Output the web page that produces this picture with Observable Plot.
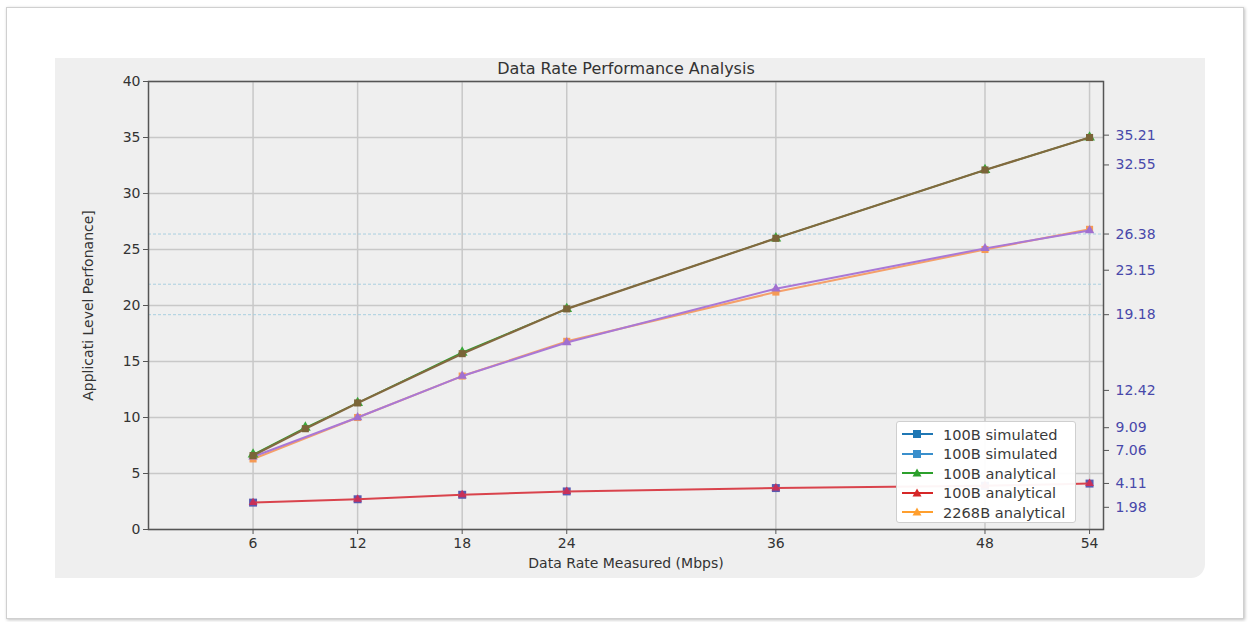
<!DOCTYPE html>
<html>
<head>
<meta charset="utf-8">
<script src="https://cdn.jsdelivr.net/npm/d3@7"></script>
<script src="https://cdn.jsdelivr.net/npm/@observablehq/plot@0.6"></script>
<style>
  html, body { margin: 0; padding: 0; background: #ffffff; width: 1250px; height: 622px; overflow: hidden; font-family: "DejaVu Sans", sans-serif; }
  #outer { position: absolute; left: 6px; top: 7px; width: 1236px; height: 610px; border: 1px solid #d0d0d0; box-shadow: 1px 1px 3px rgba(0,0,0,0.25); background: #fff; }
  #panel { position: absolute; left: 55px; top: 58px; width: 1150px; height: 520px; background: #efefef; border-bottom-right-radius: 14px; }
  #legend { position: absolute; left: 896px; top: 421px; width: 178px; height: 100px; background: rgba(255,255,255,0.95); border: 1px solid #cfcfcf; border-radius: 3px; font: 14.6px "DejaVu Sans", sans-serif; color: #3a3a3a; }
  .row { position: absolute; left: 0; height: 20px; display: flex; align-items: center; }
  .row svg { margin-left: 5px; margin-right: 10px; }
</style>
</head>
<body>
<div id="outer"></div>
<div id="panel"></div>
<div id="legend"></div>
<script>
// ---- data ----
const xTop = [6, 9, 12, 18, 24, 36, 48, 54];
const top100Analytical = [6.7, 9.1, 11.3, 15.8, 19.7, 26.0, 32.1, 35.0];
const top100Simulated = [6.6, 9.0, 11.3, 15.7, 19.7, 26.0, 32.1, 35.0];
const xMid = [6, 12, 18, 24, 36, 48, 54];
const mid2268Analytical = [6.3, 10.0, 13.7, 16.8, 21.2, 25.0, 26.8];
const midSimulated = [6.5, 10.0, 13.7, 16.7, 21.5, 25.1, 26.7];
const xLow = [6, 12, 18, 24, 36, 48, 54];
const low100Simulated = [2.4, 2.7, 3.1, 3.4, 3.7, 3.9, 4.1];
const low100Analytical = [2.4, 2.7, 3.1, 3.4, 3.7, 3.9, 4.1];
const xTicks = [6, 12, 18, 24, 36, 48, 54];
const yTicks = [0, 5, 10, 15, 20, 25, 30, 35, 40];
const rightTicks = [35.21, 32.55, 26.38, 23.15, 19.18, 12.42, 9.09, 7.06, 4.11, 1.98];
const refLines = [26.38, 21.9, 19.18];
const legendLabels = ["100B simulated", "100B simulated", "100B analytical", "100B analytical", "2268B analytical"];
const legendColors = ["#1f77b4", "#3a8fcc", "#2ca02c", "#d62728", "#ff9f2e"];
const legendSymbols = ["square", "square", "triangle", "triangle", "triangle"];

const toRows = (xs, ys) => xs.map((x, i) => ({x, y: ys[i]}));
const topA = toRows(xTop, top100Analytical);
const topS = toRows(xTop, top100Simulated);
const midA = toRows(xMid, mid2268Analytical);
const midS = toRows(xMid, midSimulated);
const lowS = toRows(xLow, low100Simulated);
const lowA = toRows(xLow, low100Analytical);

const chart = Plot.plot({
  width: 1150,
  height: 520,
  marginLeft: 93,
  marginRight: 102,
  marginTop: 23,
  marginBottom: 49,
  style: {background: "transparent", fontFamily: "DejaVu Sans, sans-serif", fontSize: "14px", color: "#333"},
  x: {domain: [0, 54.8]},
  y: {domain: [0, 40]},
  marks: [
    Plot.gridX(xTicks, {stroke: "#c8c8c8", strokeOpacity: 1, strokeWidth: 1.5}),
    Plot.gridY(yTicks, {stroke: "#c8c8c8", strokeOpacity: 1, strokeWidth: 1.5}),
    Plot.ruleY(refLines, {stroke: "#a9cfe0", strokeDasharray: "3,2", strokeWidth: 1}),
    // middle series
    Plot.line(midA, {x: "x", y: "y", stroke: "#f5a06a", strokeWidth: 2}),
    Plot.dot(midA, {x: "x", y: "y", symbol: "square", r: 4, fill: "#f59a55", stroke: "none"}),
    Plot.line(midS, {x: "x", y: "y", stroke: "#a978d6", strokeWidth: 2}),
    Plot.dot(midS, {x: "x", y: "y", symbol: "triangle", r: 3.5, fill: "#a070d0", stroke: "none"}),
    // top series
    Plot.line(topA, {x: "x", y: "y", stroke: "#2ca02c", strokeWidth: 1.5}),
    Plot.dot(topA, {x: "x", y: "y", symbol: "triangle", r: 4, fill: "#3aa83a", stroke: "none"}),
    Plot.line(topS, {x: "x", y: "y", stroke: "#82693f", strokeWidth: 2.2}),
    Plot.dot(topS, {x: "x", y: "y", symbol: "square", r: 4, fill: "#7a6438", stroke: "none"}),
    // low series
    Plot.dot(lowS, {x: "x", y: "y", symbol: "square", r: 4.5, fill: "#5a5ab0", stroke: "none"}),
    Plot.line(lowA, {x: "x", y: "y", stroke: "#d9434c", strokeWidth: 2}),
    Plot.dot(lowA, {x: "x", y: "y", symbol: "triangle", r: 3.2, fill: "#c8305a", stroke: "none"}),
    Plot.frame({stroke: "#555", strokeWidth: 1.5}),
    Plot.axisX({ticks: xTicks, tickSize: 5, tickPadding: 4, stroke: "#555", label: "Data Rate Measured (Mbps)", labelAnchor: "center", labelArrow: "none", labelOffset: 38, tickFormat: d => d}),
    Plot.axisY({ticks: yTicks, tickSize: 5, tickPadding: 3, stroke: "#555", label: "Applicati Level Perfonance]", labelAnchor: "center", labelArrow: "none", labelOffset: 65}),
    Plot.axisY({anchor: "right", ticks: rightTicks, tickSize: 5, stroke: "#555", tickFormat: () => "", label: null}),
    Plot.axisY({anchor: "right", ticks: rightTicks, tickSize: 0, tickPadding: 12, fill: "#4848aa", tickFormat: d => d.toFixed(2), label: null}),
    Plot.text(["Data Rate Performance Analysis"], {frameAnchor: "top", dy: -19, fontSize: 16, fill: "#333", text: d => d})
  ]
});
chart.style.position = "absolute";
chart.style.left = "55px";
chart.style.top = "58px";
document.body.insertBefore(chart, document.getElementById("legend"));

// legend
const legend = document.getElementById("legend");
legendLabels.forEach((lab, i) => {
  const row = document.createElement("div");
  row.className = "row";
  row.style.top = (2 + i * 19.5) + "px";
  const sym = legendSymbols[i] === "square"
    ? `<rect x="11" y="2" width="8" height="8" fill="${legendColors[i]}"/>`
    : `<path d="M15,1.5 L19.5,9.5 L10.5,9.5 Z" fill="${legendColors[i]}"/>`;
  row.innerHTML = `<svg width="31" height="12"><line x1="0" y1="6" x2="31" y2="6" stroke="${legendColors[i]}" stroke-width="2"/>${sym}</svg><span>${lab}</span>`;
  legend.appendChild(row);
});
</script>
</body>
</html>
